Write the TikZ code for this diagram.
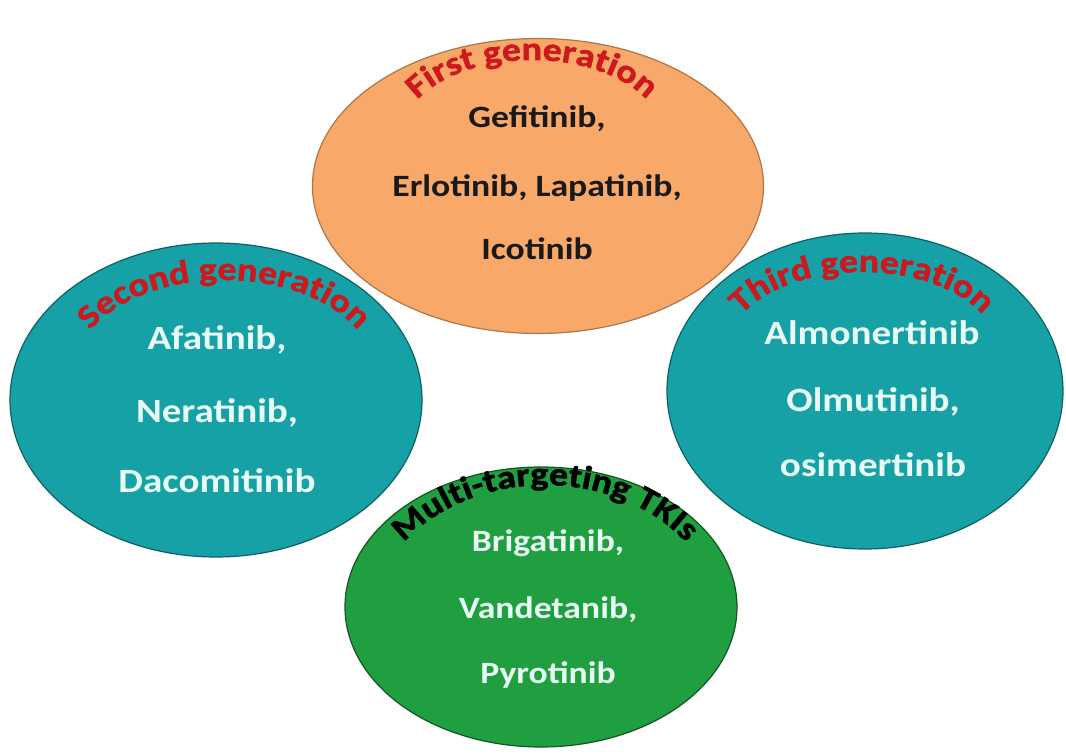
\documentclass[tikz,border=0pt]{standalone}
\usepackage{fontspec}
\setmainfont{Carlito}[FakeStretch=1.15]
\newfontfamily\heavyfamily{Carlito}[FakeStretch=1.15,FakeBold=1.6]
\usetikzlibrary{shapes.geometric,decorations.text}
\definecolor{ovalorange}{RGB}{248,168,104}
\definecolor{ovalteal}{RGB}{22,161,167}
\definecolor{ovalgreen}{RGB}{31,159,64}
\definecolor{titlered}{RGB}{205,24,30}
\definecolor{paletext}{RGB}{232,250,244}
\newcommand{\drugfont}{\bfseries\fontsize{31}{36}\selectfont}
\newcommand{\bigdrugfont}{\bfseries\fontsize{34}{40}\selectfont}
\newcommand{\titlefont}{\heavyfamily\bfseries\fontsize{33}{38}\selectfont}
\tikzset{
  oval/.style={ellipse,inner sep=0pt,line width=1.2pt},
  drug/.style={anchor=base,font=\drugfont,inner sep=0pt},
  title/.style={decorate,decoration={text along path,text align=center,text color=#1}},
}

\begin{document}
\begin{tikzpicture}[x=1pt,y=1pt]
\useasboundingbox (0,0) rectangle (1066,753);
%% the four ovals
\node[oval,fill=ovalorange,draw=ovalorange!70!black,minimum width=451,minimum height=295] (first) at (538,567) {};
\node[oval,fill=ovalteal,draw=ovalteal!60!black,minimum width=412,minimum height=314] (second) at (216,353) {};
\node[oval,fill=ovalteal,draw=ovalteal!60!black,minimum width=396,minimum height=316] (third) at (865,362) {};
\node[oval,fill=ovalgreen,draw=ovalgreen!55!black,minimum width=392,minimum height=280] (multi) at (541,146) {};
%% curved titles
\path[title=titlered,decoration={text={|\titlefont|First generation}}] (532,616) ++(180:131 and 77) arc[start angle=180,end angle=0,x radius=131,y radius=77];
\path[title=titlered,decoration={text={|\titlefont|Second generation}}] (224,381) ++(180:150 and 92) arc[start angle=180,end angle=0,x radius=150,y radius=92];
\path[title=titlered,decoration={text={|\titlefont|Third generation}}] (862,403) ++(180:135 and 78) arc[start angle=180,end angle=0,x radius=135,y radius=78];
\path[title=black,decoration={text={|\titlefont|Multi-targeting TKIs}}] (545,127) ++(180:175 and 141) arc[start angle=180,end angle=0,x radius=175,y radius=141];
%% first generation
\node[drug,text=black!90] (gef) at (537,625) {Gefitinib,};
\node[drug,text=black!90] (erl) at (537,556) {Erlotinib, Lapatinib,};
\node[drug,text=black!90] (ico) at (537,493) {Icotinib};
%% second generation
\node[drug,text=paletext,font=\bigdrugfont] (afa) at (217,403) {Afatinib,};
\node[drug,text=paletext,font=\bigdrugfont] (ner) at (217,330) {Neratinib,};
\node[drug,text=paletext,font=\bigdrugfont] (dac) at (217,260) {Dacomitinib};
%% third generation
\node[drug,text=paletext,font=\bigdrugfont] (alm) at (872,408) {Almonertinib};
\node[drug,text=paletext,font=\bigdrugfont] (olm) at (873,341) {Olmutinib,};
\node[drug,text=paletext,font=\bigdrugfont] (osi) at (873,276) {osimertinib};
%% multi-targeting
\node[drug,text=paletext] (bri) at (548,201) {Brigatinib,};
\node[drug,text=paletext] (van) at (548,135) {Vandetanib,};
\node[drug,text=paletext] (pyr) at (548,70) {Pyrotinib};
\end{tikzpicture}
\end{document}
